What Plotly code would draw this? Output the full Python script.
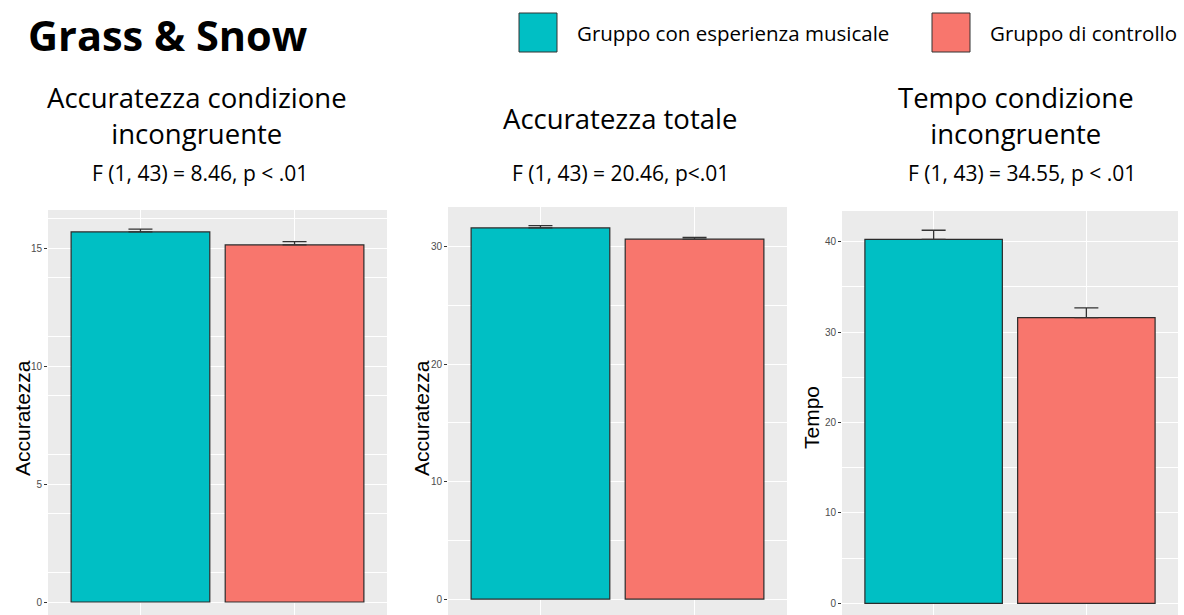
import plotly.graph_objects as go

W, H = 1184, 615

groups = ["Gruppo con esperienza musicale", "Gruppo di controllo"]
colors = ["#00BFC4", "#F8766D"]

panel_titles = ["Accuratezza condizione<br>incongruente", "Accuratezza totale",
                "Tempo condizione<br>incongruente"]
panel_stats = ["F (1, 43) = 8.46, p < .01", "F (1, 43) = 20.46, p<.01",
               "F (1, 43) = 34.55, p < .01"]
y_titles = ["Accuratezza", "Accuratezza", "Tempo"]

acc_incong_mean = [15.68, 15.13]
acc_incong_se = [0.12, 0.14]
acc_tot_mean = [31.60, 30.64]
acc_tot_se = [0.20, 0.16]
tempo_incong_mean = [40.25, 31.60]
tempo_incong_se = [1.00, 1.06]

y_ticks = [[0, 5, 10, 15], [0, 10, 20, 30], [0, 10, 20, 30, 40]]
y_minor = [2.5, 5, 5]

means = [acc_incong_mean, acc_tot_mean, tempo_incong_mean]
ses = [acc_incong_se, acc_tot_se, tempo_incong_se]

# panel geometry (pixels)
px_left = [48, 448, 842]
px_right = [387, 787, 1178]
px_top = [210, 207, 211]
y_ranges = [[-0.55, 16.61], [-1.36, 33.38], [-1.29, 43.38]]

fig = go.Figure()
for i in range(3):
    xa = "x" if i == 0 else f"x{i+1}"
    ya = "y" if i == 0 else f"y{i+1}"
    fig.add_trace(go.Bar(
        x=groups, y=means[i], xaxis=xa, yaxis=ya,
        marker=dict(color=colors, line=dict(color="#2b2b2b", width=1.2)),
        width=0.9, showlegend=False,
        error_y=dict(type="data", array=ses[i], arrayminus=[0] * len(ses[i]),
                     symmetric=False, color="#333333", thickness=1.3, width=12),
    ))
    xkey = "xaxis" if i == 0 else f"xaxis{i+1}"
    ykey = "yaxis" if i == 0 else f"yaxis{i+1}"
    fig.layout[xkey] = dict(
        domain=[px_left[i] / W, px_right[i] / W], anchor=ya,
        type="category", range=[-0.6, 1.6],
        showgrid=True, gridcolor="white", gridwidth=1.1,
        showticklabels=False, ticks="", zeroline=False, showline=False,
        fixedrange=True,
    )
    fig.layout[ykey] = dict(
        domain=[0, 1 - px_top[i] / H], anchor=xa,
        range=y_ranges[i], tickvals=y_ticks[i],
        showgrid=True, gridcolor="white", gridwidth=1.1,
        ticks="outside", ticklen=3, tickcolor="#333333", tickwidth=1,
        tickfont=dict(family="Liberation Sans, Arial", size=10, color="#4D4D4D"),
        zeroline=False, showline=False,
        minor=dict(dtick=y_minor[i], tick0=y_minor[i] / 2 if i == 0 else 5,
                   showgrid=True, gridcolor="white", gridwidth=0.5, ticks=""),
        fixedrange=True,
    )

shapes = []
annotations = []

# headline
annotations.append(dict(text="<b>Grass & Snow</b>", x=26 / W, y=1 - 35 / H,
                        xref="paper", yref="paper", xanchor="left", yanchor="middle",
                        showarrow=False,
                        font=dict(family="Open Sans", size=41.5, color="black")))

# legend
leg_x = [519, 932]
leg_text_x = [575, 988]
for k in range(2):
    shapes.append(dict(type="rect", xref="paper", yref="paper",
                       x0=leg_x[k] / W, x1=(leg_x[k] + 38) / W,
                       y0=1 - 52 / H, y1=1 - 13 / H,
                       fillcolor=colors[k], line=dict(color="#333333", width=1)))
    annotations.append(dict(text=groups[k], x=leg_text_x[k] / W, y=1 - 33 / H,
                            xref="paper", yref="paper", xanchor="left", yanchor="middle",
                            showarrow=False,
                            font=dict(family="Open Sans", size=20.5, color="black")))

# panel titles
title_cx = [197, 620, 1016]
title_cy = [116, 118, 116]
stat_cx = [200, 620, 1022]
for i in range(3):
    annotations.append(dict(text=panel_titles[i], x=title_cx[i] / W, y=1 - title_cy[i] / H,
                            xref="paper", yref="paper", xanchor="center", yanchor="middle",
                            showarrow=False,
                            font=dict(family="Open Sans", size=27.5, color="black")))
    annotations.append(dict(text=panel_stats[i], x=stat_cx[i] / W, y=1 - 173 / H,
                            xref="paper", yref="paper", xanchor="center", yanchor="middle",
                            showarrow=False,
                            font=dict(family="Open Sans", size=21, color="black")))
    # y-axis titles
    ycx = [22, 421, 811][i]
    annotations.append(dict(text=y_titles[i], x=ycx / W, y=1 - 418 / H,
                            xref="paper", yref="paper", xanchor="center", yanchor="middle",
                            textangle=-90, showarrow=False,
                            font=dict(family="Liberation Sans, Arial", size=21, color="black")))

fig.update_layout(
    width=W, height=H, margin=dict(l=0, r=0, t=0, b=0),
    paper_bgcolor="white", plot_bgcolor="#EBEBEB",
    shapes=shapes, annotations=annotations, bargap=0.1,
)

fig.write_html("out.html")
